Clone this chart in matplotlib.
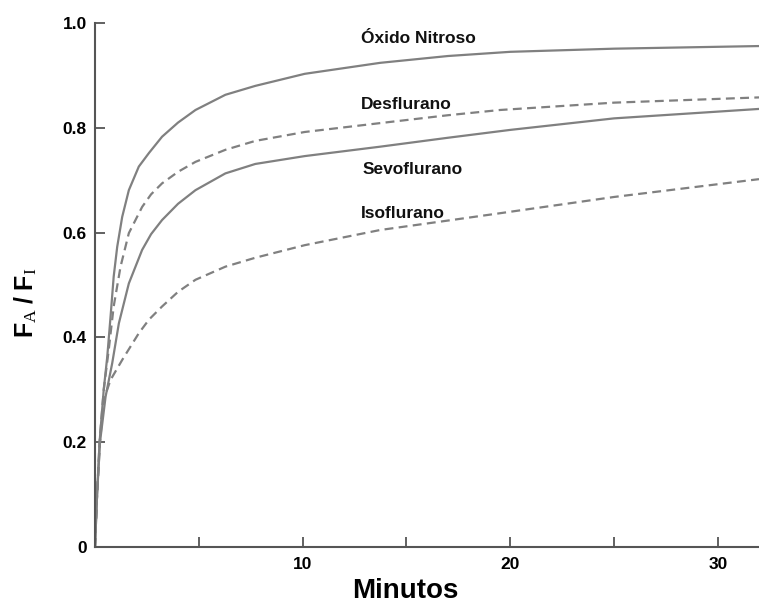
import matplotlib
matplotlib.use("Agg")
import matplotlib.pyplot as plt

plt.rcParams['font.family'] = ['Liberation Sans', 'DejaVu Sans']
plt.rcParams['mathtext.fontset'] = 'custom'
plt.rcParams['mathtext.bf'] = 'Liberation Sans:bold'
plt.rcParams['mathtext.rm'] = 'Liberation Serif'
plt.rcParams['mathtext.it'] = 'Liberation Serif:italic'

# ---- data ----
n2o_x = [0, 0.10, 0.22, 0.42, 0.59, 0.75, 0.90, 1.07, 1.31, 1.63, 2.11, 2.6, 3.23, 4.0, 4.84, 6.28, 7.72,
         10.1, 13.74, 17.0, 20.0, 25.0, 31.98]
n2o_y = [0, 0.10, 0.20, 0.300, 0.363, 0.440, 0.516, 0.573, 0.630, 0.681, 0.726, 0.752, 0.783, 0.810, 0.834, 0.863, 0.880,
         0.903, 0.924, 0.937, 0.945, 0.951, 0.956]

des_x = [0, 0.10, 0.22, 0.42, 0.66, 0.90, 1.23, 1.63, 2.27, 2.7, 3.23, 4.0, 4.84, 6.28, 7.72,
         10.1, 13.74, 17.0, 19.51, 25.0, 31.98]
des_y = [0, 0.10, 0.20, 0.300, 0.376, 0.459, 0.535, 0.599, 0.649, 0.673, 0.694, 0.716, 0.735, 0.758, 0.775,
         0.792, 0.809, 0.824, 0.834, 0.848, 0.858]

sevo_x = [0, 0.10, 0.24, 0.51, 0.83, 1.15, 1.63, 2.27, 2.7, 3.23, 4.0, 4.84, 6.28, 7.72,
          10.1, 13.74, 17.0, 20.0, 25.0, 31.98]
sevo_y = [0, 0.10, 0.20, 0.287, 0.351, 0.427, 0.503, 0.567, 0.597, 0.624, 0.655, 0.681, 0.713, 0.731,
          0.746, 0.764, 0.781, 0.796, 0.818, 0.836]

iso_x = [0, 0.10, 0.24, 0.42, 0.75, 1.31, 2.11, 2.6, 3.23, 4.0, 4.84, 6.28, 7.72,
         10.1, 13.74, 17.0, 19.51, 25.0, 31.98]
iso_y = [0, 0.10, 0.20, 0.281, 0.319, 0.357, 0.408, 0.434, 0.459, 0.487, 0.510, 0.535, 0.552,
         0.576, 0.605, 0.623, 0.637, 0.668, 0.702]

labels = ['Óxido Nitroso', 'Desflurano', 'Sevoflurano', 'Isoflurano']
label_x = [12.8, 12.8, 12.9, 12.8]
label_y = [0.971, 0.845, 0.721, 0.637]

x_ticks = [5, 10, 15, 20, 25, 30]
x_ticklabels = ['', '10', '', '20', '', '30']
y_ticks = [0, 0.2, 0.4, 0.6, 0.8, 1.0]
y_ticklabels = ['0', '0.2', '0.4', '0.6', '0.8', '1.0']

# ---- figure ----
fig = plt.figure(figsize=(7.59, 6.05), dpi=100)
ax = fig.add_axes([95 / 759, 58 / 605, 664 / 759, 524 / 605])

curve_color = '#808080'
ax.plot(n2o_x, n2o_y, color=curve_color, lw=1.6, solid_joinstyle='round')
ax.plot(sevo_x, sevo_y, color=curve_color, lw=1.6, solid_joinstyle='round')
l1, = ax.plot(des_x, des_y, color=curve_color, lw=1.6)
l1.set_dashes((4, 2.4))
l2, = ax.plot(iso_x, iso_y, color=curve_color, lw=1.6)
l2.set_dashes((4, 2.4))

for t, lx, ly in zip(labels, label_x, label_y):
    ax.text(lx, ly, t, fontsize=12.5, fontweight='bold', ha='left', va='center', color='#111111')

ax.set_xlim(0, 31.98)
ax.set_ylim(0, 1.0)

for s in ['top', 'right']:
    ax.spines[s].set_visible(False)
for s in ['left', 'bottom']:
    ax.spines[s].set_color('#555555')
    ax.spines[s].set_linewidth(1.5)

ax.set_xticks(x_ticks)
ax.set_xticklabels(x_ticklabels)
ax.set_yticks(y_ticks)
ax.set_yticklabels(y_ticklabels)
ax.tick_params(axis='both', direction='in', length=7, width=1.3, color='#555555',
               labelsize=12.5, labelcolor='black')
ax.tick_params(axis='x', pad=7)
ax.tick_params(axis='y', pad=6)
for lab in ax.get_xticklabels() + ax.get_yticklabels():
    lab.set_fontweight('bold')

ax.text(0.468, -0.097, 'Minutos', transform=ax.transAxes, fontsize=20,
        fontweight='bold', ha='center', va='baseline', color='black')

fig.text(26 / 759, 1 - 303 / 605,
         r'$\mathbf{F}_{\mathrm{A}}\ \mathbf{/}\ \mathbf{F}_{\mathrm{I}}$',
         rotation=90, fontsize=18, ha='center', va='center', color='black')

fig.savefig('out.png', dpi=100)
